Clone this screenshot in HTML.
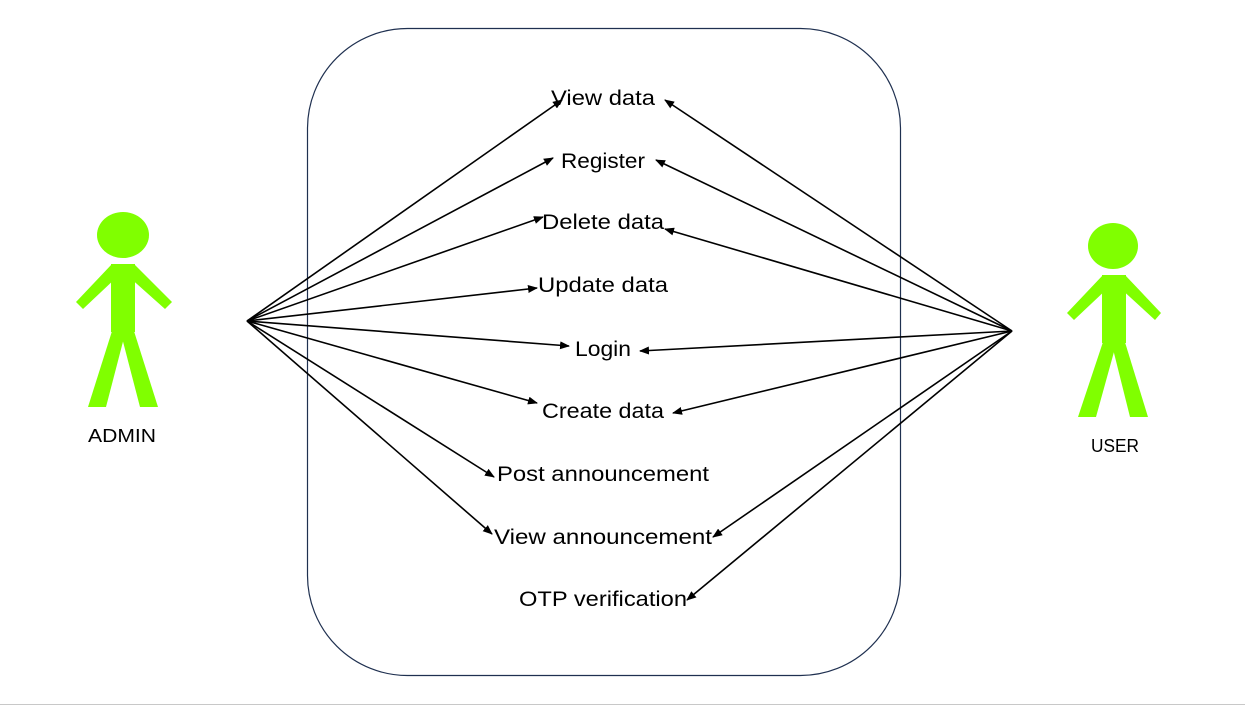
<!DOCTYPE html>
<html><head><style>body{margin:0;background:#fff}svg{display:block}</style></head><body>
<svg width="1245" height="706" viewBox="0 0 1245 706" xmlns="http://www.w3.org/2000/svg">
<defs><marker id="a" markerWidth="10" markerHeight="8" refX="9" refY="4" orient="auto" markerUnits="userSpaceOnUse"><path d="M0,0 L10,4 L0,8 Z" fill="#000"/></marker></defs>
<rect x="0" y="0" width="1245" height="706" fill="#fff"/>
<line x1="0" y1="704.5" x2="1245" y2="704.5" stroke="#c8c8c8" stroke-width="1"/>
<rect x="307.5" y="28.5" width="593" height="647" rx="100" ry="100" fill="none" stroke="#1f3050" stroke-width="1.2"/>
<g fill="#80ff00">
<ellipse cx="123" cy="235" rx="26" ry="23"/>
<rect x="111" y="264" width="24" height="68"/>
<polygon points="112,264 118,276 83,309 76,302"/>
<polygon points="134,264 128,276 165,309 172,302"/>
<polygon points="113,328 126,330 106,407 88,407"/>
<polygon points="120,330 133,328 158,407 140,407"/>
<ellipse cx="1113" cy="246" rx="25" ry="23"/>
<rect x="1102" y="275" width="24" height="68"/>
<polygon points="1103,275 1109,287 1074,320 1067,313"/>
<polygon points="1125,275 1119,287 1155,320 1161,313"/>
<polygon points="1104,339 1117,341 1096,417 1078,417"/>
<polygon points="1111,341 1124,339 1148,417 1130,417"/>
</g>
<g stroke="#000" stroke-width="1.6" marker-end="url(#a)">
<line x1="247" y1="321" x2="562" y2="100"/>
<line x1="247" y1="321" x2="553" y2="158"/>
<line x1="247" y1="321" x2="543" y2="217"/>
<line x1="247" y1="321" x2="537" y2="288"/>
<line x1="247" y1="321" x2="569" y2="346"/>
<line x1="247" y1="321" x2="537" y2="403"/>
<line x1="247" y1="321" x2="494" y2="477"/>
<line x1="247" y1="321" x2="492" y2="534"/>
<line x1="1012" y1="331" x2="665" y2="100"/>
<line x1="1012" y1="331" x2="656" y2="160"/>
<line x1="1012" y1="331" x2="665" y2="229"/>
<line x1="1012" y1="331" x2="640" y2="351"/>
<line x1="1012" y1="331" x2="673" y2="413"/>
<line x1="1012" y1="331" x2="713" y2="537"/>
<line x1="1012" y1="331" x2="687" y2="600"/>
</g>
<g font-family="Liberation Sans, sans-serif" font-size="21" fill="#000" text-anchor="middle">
<text x="603" y="105" textLength="104" lengthAdjust="spacingAndGlyphs">View data</text>
<text x="603" y="168" textLength="84" lengthAdjust="spacingAndGlyphs">Register</text>
<text x="603" y="229" textLength="122" lengthAdjust="spacingAndGlyphs">Delete data</text>
<text x="603" y="292" textLength="130" lengthAdjust="spacingAndGlyphs">Update data</text>
<text x="603" y="356" textLength="56" lengthAdjust="spacingAndGlyphs">Login</text>
<text x="603" y="418" textLength="122" lengthAdjust="spacingAndGlyphs">Create data</text>
<text x="603" y="481" textLength="212" lengthAdjust="spacingAndGlyphs">Post announcement</text>
<text x="603" y="544" textLength="218" lengthAdjust="spacingAndGlyphs">View announcement</text>
<text x="603" y="606" textLength="168" lengthAdjust="spacingAndGlyphs">OTP verification</text>
</g>
<g font-family="Liberation Sans, sans-serif" font-size="18" fill="#000" text-anchor="middle">
<text x="122" y="442" textLength="68" lengthAdjust="spacingAndGlyphs">ADMIN</text>
<text x="1115" y="452" textLength="48" lengthAdjust="spacingAndGlyphs">USER</text>
</g>
</svg>
</body></html>
